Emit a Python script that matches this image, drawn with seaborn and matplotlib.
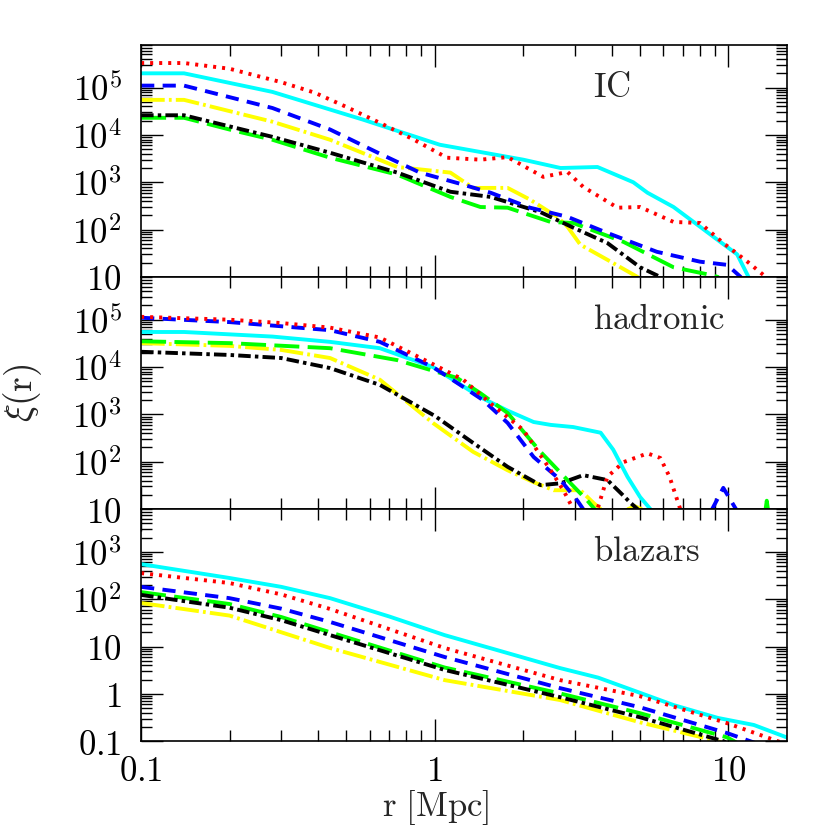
import matplotlib
matplotlib.use("Agg")
import matplotlib.pyplot as plt
import matplotlib.ticker as mticker
import numpy as np
import seaborn as sns

# ---- IC panel ----
ic_cyan_r = [0.1, 0.14, 0.28, 0.57, 1.04, 2.0, 2.68, 3.58, 4.74, 5.3, 6.5, 8.0, 9.2, 10.7, 11.7, 12.5]
ic_cyan_xi = [2.0e5, 2.0e5, 8.1e4, 2.1e4, 6.2e3, 3.0e3, 2.0e3, 2.1e3, 1.0e3, 600, 300, 115, 60, 30, 10, 4]
ic_red_r = [0.1, 0.14, 0.2, 0.3, 0.39, 0.5, 0.65, 0.85, 1.1, 1.43, 1.77, 2.34, 2.83, 3.2, 4.19, 5.0, 6.5, 8.0, 9.6, 11.6, 13.4, 15]
ic_red_xi = [3.3e5, 3.3e5, 2.5e5, 1.3e5, 7.8e4, 3.9e4, 1.8e4, 7.9e3, 3.3e3, 3.0e3, 3.4e3, 1.3e3, 1.65e3, 800, 290, 300, 145, 138, 52, 21, 10, 4]
ic_blue_r = [0.1, 0.14, 0.28, 0.44, 0.64, 0.89, 1.25, 1.55, 2.11, 2.83, 3.87, 5.7, 8.0, 9.9, 11.0, 12.0]
ic_blue_xi = [1.1e5, 1.1e5, 3.7e4, 1.3e4, 4.2e3, 1.6e3, 890, 600, 290, 186, 85, 34, 21, 18, 10, 3]
ic_yellow_r = [0.1, 0.14, 0.28, 0.44, 0.745, 1.13, 1.35, 1.77, 2.11, 2.61, 2.83, 3.13, 3.87, 4.9, 5.8]
ic_yellow_xi = [5.5e4, 5.5e4, 1.9e4, 7.9e3, 2.1e3, 1.6e3, 760, 760, 430, 186, 115, 48, 23, 10, 3]
ic_black_r = [0.1, 0.14, 0.28, 0.44, 0.745, 1.13, 1.55, 2.29, 2.96, 3.87, 5.0, 5.86, 7.0]
ic_black_xi = [2.6e4, 2.6e4, 9.1e3, 4.2e3, 1.6e3, 630, 490, 234, 110, 52, 16, 10, 3]
ic_green_r = [0.1, 0.14, 0.2, 0.28, 0.44, 0.745, 1.13, 1.43, 1.77, 2.48, 2.96, 4.39, 6.5, 8.7, 9.2, 10.0]
ic_green_xi = [2.3e4, 2.3e4, 1.3e4, 7.9e3, 3.3e3, 1.45e3, 490, 300, 290, 145, 138, 55, 16, 11, 10, 3]

# ---- hadronic panel ----
had_cyan_r = [0.1, 0.14, 0.28, 0.44, 0.65, 0.985, 1.43, 1.77, 2.17, 2.48, 2.96, 3.67, 4.05, 4.53, 5.0, 5.42, 6.0]
had_cyan_xi = [5.5e4, 5.5e4, 4.4e4, 3.4e4, 2.5e4, 1.0e4, 2.3e3, 1.2e3, 690, 600, 540, 410, 180, 48, 18, 10, 2]
had_red_r = [0.1, 0.2, 0.3, 0.44, 0.65, 1.0, 1.25, 1.55, 2.0, 2.48, 2.74, 2.96, 3.3, 3.58, 3.87, 4.39, 5.3, 5.86, 6.3, 6.85, 7.5]
had_red_xi = [1.15e5, 1.0e5, 8.5e4, 6.8e4, 4.2e4, 1.1e4, 5.4e3, 1.7e3, 470, 66, 25, 10, 2, 10, 48, 98, 150, 120, 48, 10, 2]
had_blue_r = [0.1, 0.2, 0.44, 0.65, 0.985, 1.22, 1.46, 1.77, 2.17, 2.68, 3.06, 3.2, 3.6, 8.3, 8.8, 9.6, 10.6, 11.2]
had_blue_xi = [1.1e5, 8.9e4, 6.0e4, 3.4e4, 1.0e4, 4.2e3, 2.0e3, 660, 126, 41, 15, 10, 1, 1, 10, 28, 10, 1]
had_green_r = [0.1, 0.2, 0.44, 0.745, 1.19, 1.43, 1.77, 2.29, 2.83, 3.31, 3.5, 3.9, 12.9, 13.5, 14.1]
had_green_xi = [3.5e4, 3.2e4, 2.5e4, 1.4e4, 5.9e3, 2.8e3, 1.07e3, 162, 41, 15, 10, 2, 2, 15, 2]
had_yellow_r = [0.1, 0.2, 0.3, 0.44, 0.65, 0.985, 1.35, 1.77, 2.17, 2.54, 3.13, 3.47, 3.67, 4.0, 4.55, 4.8, 5.05, 5.3]
had_yellow_xi = [3.2e4, 2.8e4, 2.3e4, 1.55e4, 5.4e3, 660, 162, 66, 37, 25, 25, 13.5, 10, 3, 10, 11.5, 10, 3]
had_black_r = [0.1, 0.2, 0.3, 0.44, 0.65, 1.0, 1.35, 1.77, 2.29, 2.68, 3.2, 3.87, 4.29, 4.64, 4.9, 5.3]
had_black_xi = [2.1e4, 1.8e4, 1.55e4, 9.5e3, 4.2e3, 930, 250, 78, 32, 35, 52, 41, 22, 13.5, 10, 2.5]

# ---- blazars panel ----
bl_cyan_r = [0.1, 0.2, 0.3, 0.44, 0.7, 1.08, 1.7, 2.67, 3.6, 5.0, 6.5, 9.2, 12.2, 15.8]
bl_cyan_xi = [550, 280, 182, 105, 43, 17.4, 7.8, 3.5, 2.2, 1.05, 0.58, 0.31, 0.22, 0.12]
bl_red_r = [0.1, 0.2, 0.3, 0.44, 1.08, 2.67, 5.0, 9.9, 15.5]
bl_red_xi = [355, 219, 126, 62, 9.3, 1.95, 0.89, 0.24, 0.089]
bl_blue_r = [0.1, 0.2, 0.3, 0.44, 1.08, 2.67, 5.0, 9.9, 12.5]
bl_blue_xi = [182, 105, 63, 33, 6.0, 1.32, 0.52, 0.148, 0.089]
bl_green_r = [0.1, 0.2, 0.3, 0.44, 1.08, 2.67, 5.0, 9.9, 10.8]
bl_green_xi = [141, 79, 42, 20, 3.6, 1.02, 0.39, 0.12, 0.089]
bl_black_r = [0.1, 0.2, 0.3, 0.44, 1.08, 2.67, 5.0, 9.6, 10.5]
bl_black_xi = [123, 66, 36, 17.4, 3.2, 0.85, 0.32, 0.1, 0.08]
bl_yellow_r = [0.1, 0.2, 0.3, 0.44, 1.08, 2.67, 5.0, 9.2, 10.0]
bl_yellow_xi = [83, 45, 20, 9.3, 1.95, 0.74, 0.25, 0.1, 0.08]

panel_names = ["IC", "hadronic", "blazars"]
panel_ylims = [(10, 8e5), (10, 8e5), (0.1, 8e3)]

# line styles (drawing order: cyan, yellow, green, black, blue, red)
styles = {
    "cyan": dict(color="#00ffff", ls="-"),
    "yellow": dict(color="#ffff00", ls=(0, (17, 3, 2, 3))),
    "green": dict(color="#00ff00", ls=(0, (18, 6))),
    "black": dict(color="black", ls=(0, (9, 3, 2.5, 3))),
    "blue": dict(color="#0000ff", ls=(0, (9.5, 6))),
    "red": dict(color="#ff0000", ls=(0, (2.2, 4.3))),
}

panels = [
    {"cyan": (ic_cyan_r, ic_cyan_xi), "yellow": (ic_yellow_r, ic_yellow_xi),
     "green": (ic_green_r, ic_green_xi), "black": (ic_black_r, ic_black_xi),
     "blue": (ic_blue_r, ic_blue_xi), "red": (ic_red_r, ic_red_xi)},
    {"cyan": (had_cyan_r, had_cyan_xi), "yellow": (had_yellow_r, had_yellow_xi),
     "green": (had_green_r, had_green_xi), "black": (had_black_r, had_black_xi),
     "blue": (had_blue_r, had_blue_xi), "red": (had_red_r, had_red_xi)},
    {"cyan": (bl_cyan_r, bl_cyan_xi), "yellow": (bl_yellow_r, bl_yellow_xi),
     "green": (bl_green_r, bl_green_xi), "black": (bl_black_r, bl_black_xi),
     "blue": (bl_blue_r, bl_blue_xi), "red": (bl_red_r, bl_red_xi)},
]

sns.set_style("ticks")
plt.rcParams["mathtext.fontset"] = "cm"
plt.rcParams["font.family"] = ["DejaVu Serif"]
plt.rcParams["lines.scale_dashes"] = False
plt.rcParams["axes.linewidth"] = 1.2


def tick_fmt(v, pos):
    if v <= 0:
        return ""
    if v >= 100:
        return r"$10^{%d}$" % int(round(np.log10(v)))
    return r"$%g$" % v


fig, axes = plt.subplots(3, 1, figsize=(8.3, 8.3), dpi=100, sharex=True)
fig.subplots_adjust(left=0.170, right=0.948, top=0.946, bottom=0.107, hspace=0)

for ax, data, name, ylim in zip(axes, panels, panel_names, panel_ylims):
    ax.set_xscale("log")
    ax.set_yscale("log")
    for key in ["cyan", "yellow", "green", "black", "blue", "red"]:
        r, xi = data[key]
        sns.lineplot(x=r, y=xi, ax=ax, lw=2.8, sort=False, **styles[key])
    ax.set_xlim(0.1, 15.8)
    ax.set_ylim(*ylim)
    ax.xaxis.set_major_locator(mticker.LogLocator(base=10, numticks=20))
    ax.yaxis.set_major_locator(mticker.LogLocator(base=10, numticks=20))
    ax.xaxis.set_minor_locator(mticker.LogLocator(base=10, subs=np.arange(2, 10), numticks=20))
    ax.yaxis.set_minor_locator(mticker.LogLocator(base=10, subs=np.arange(2, 10), numticks=20))
    ax.xaxis.set_major_formatter(mticker.FuncFormatter(tick_fmt))
    ax.yaxis.set_major_formatter(mticker.FuncFormatter(tick_fmt))
    ax.xaxis.set_minor_formatter(mticker.NullFormatter())
    ax.yaxis.set_minor_formatter(mticker.NullFormatter())
    ax.tick_params(which="both", direction="in", top=True, right=True, width=1.0,
                   labelsize=25, colors="black")
    ax.tick_params(which="major", length=16)
    ax.tick_params(which="minor", length=8)
    ax.tick_params(axis="y", pad=14)
    ax.tick_params(axis="x", pad=9)
    for sp in ax.spines.values():
        sp.set_color("black")
    ax.text(0.70, 0.82, r"$\mathrm{%s}$" % name, transform=ax.transAxes,
            ha="left", va="center", fontsize=25)
    ax.set_xlabel("")
    ax.set_ylabel("")

for ax in axes[:-1]:
    ax.tick_params(labelbottom=False)

fig.text(0.027, 0.527, r"$\xi(\mathrm{r})$", rotation=90, ha="center", va="center", fontsize=27)
fig.text(0.525, 0.027, r"$\mathrm{r\ [Mpc]}$", ha="center", va="center", fontsize=25)

fig.savefig("out.png", dpi=100)
